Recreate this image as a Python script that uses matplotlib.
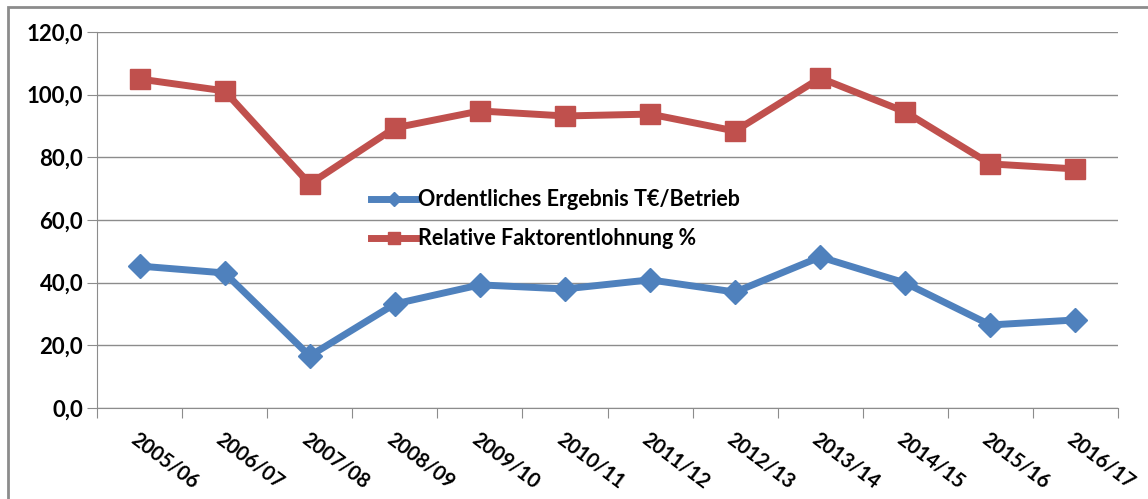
import matplotlib.pyplot as plt
from matplotlib.patches import Rectangle

years = ['2005/06', '2006/07', '2007/08', '2008/09', '2009/10', '2010/11',
         '2011/12', '2012/13', '2013/14', '2014/15', '2015/16', '2016/17']
ergebnis = [45.3, 43.1, 16.6, 33.2, 39.3, 38.0, 40.9, 37.0, 48.2, 39.9, 26.5, 28.1]
faktor = [105.0, 101.2, 71.5, 89.4, 94.8, 93.2, 93.8, 88.4, 105.3, 94.5, 77.9, 76.3]
yticks = [0, 20, 40, 60, 80, 100, 120]

plt.rcParams['font.family'] = ['Lato', 'DejaVu Sans']

fig = plt.figure(figsize=(11.48, 4.99), dpi=100)
fig.patches.append(Rectangle((8 / 1148, -0.1), 1.2, (499 - 7) / 499 + 0.1,
                             transform=fig.transFigure, fill=False,
                             edgecolor='#8c8c8c', linewidth=2))
ax = fig.add_axes([97 / 1148, 1 - 408 / 499, (1118 - 97) / 1148, (408 - 32) / 499])

x = list(range(len(years)))
ax.plot(x, ergebnis, color='#4F81BD', lw=5, marker='D', ms=12,
        label='Ordentliches Ergebnis T€/Betrieb', zorder=3)
ax.plot(x, faktor, color='#C0504D', lw=5, marker='s', ms=14,
        label='Relative Faktorentlohnung %', zorder=3)

ax.set_xlim(-0.5, len(years) - 0.5)
ax.set_ylim(0, 120)
ax.set_yticks(yticks)
ax.set_yticklabels([f'{v},0' for v in yticks], fontsize=16, fontweight='bold')
ax.yaxis.grid(True, color='#8c8c8c', lw=1)
ax.set_axisbelow(True)

ax.set_xticks([i - 0.5 for i in range(len(years) + 1)])
ax.set_xticklabels([])
ax.tick_params(axis='x', length=7, color='#8c8c8c', direction='out')
ax.tick_params(axis='y', length=7, color='#8c8c8c', pad=3)
for i, lab in enumerate(years):
    ax.text(i + 0.0, -6.5, lab, rotation=-37, ha='left', va='top',
            fontsize=14.5, fontweight='bold', rotation_mode='anchor')

for s in ['top', 'right']:
    ax.spines[s].set_visible(False)
for s in ['left', 'bottom']:
    ax.spines[s].set_color('#8c8c8c')

leg = ax.legend(loc='upper left', bbox_to_anchor=(0.26, 0.605), frameon=False,
                prop={'size': 15.5, 'weight': 'bold'}, handlelength=2.1,
                handletextpad=0.1, labelspacing=0.85, markerscale=0.6,
                borderaxespad=0)

fig.savefig('out.png', dpi=100)
